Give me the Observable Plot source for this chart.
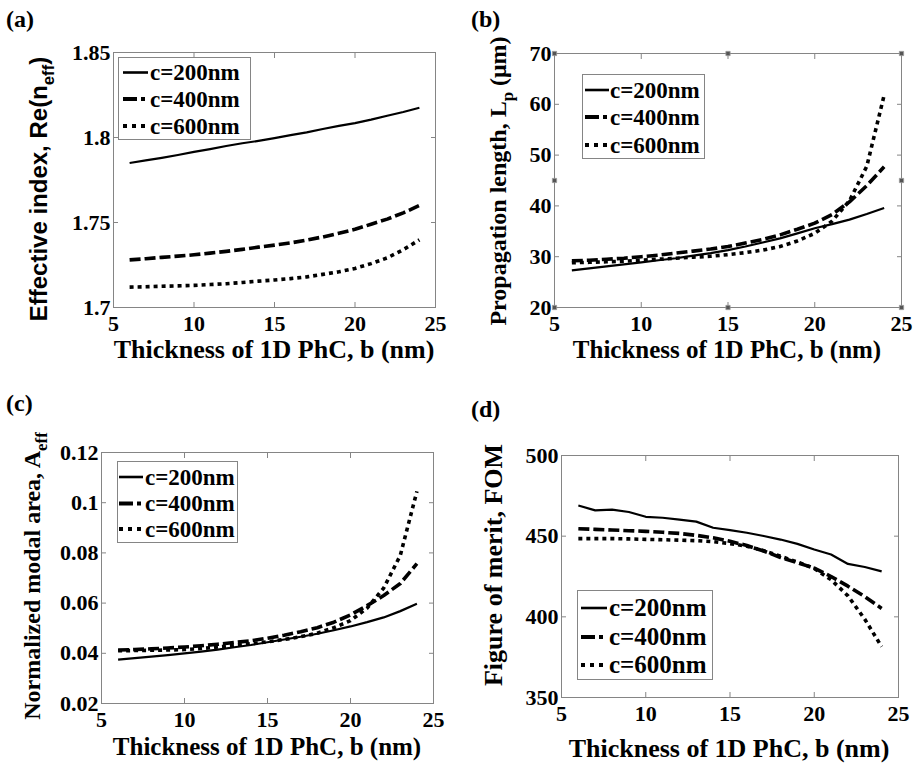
<!DOCTYPE html>
<html><head><meta charset="utf-8">
<script src="https://cdn.jsdelivr.net/npm/d3@7"></script>
<script src="https://cdn.jsdelivr.net/npm/@observablehq/plot@0.6"></script>
<style>
html,body{margin:0;padding:0;background:#fff;}
#wrap{position:relative;width:918px;height:764px;overflow:hidden;background:#fff;}
.panel{position:absolute;width:459px;height:382px;}
.panel svg{overflow:visible;}
#overlay{position:absolute;left:0;top:0;pointer-events:none;}
</style></head>
<body><div id="wrap"></div>
<script>
// ---------- data ----------
const thickness = [6,7,8,9,10,11,12,13,14,15,16,17,18,19,20,21,22,23,24];
const seriesLabels = ["c=200nm","c=400nm","c=600nm"];
const xTicks = [5,10,15,20,25];

// (a) effective index Re(n_eff)
const neff200 = [1.785,1.7865,1.788,1.7897,1.7915,1.7932,1.795,1.7966,1.798,1.7996,1.8014,1.803,1.805,1.8068,1.8085,1.8105,1.8128,1.815,1.8175];
const neff400 = [1.728,1.7287,1.7295,1.7302,1.731,1.732,1.733,1.7342,1.7355,1.7367,1.738,1.7397,1.7415,1.7437,1.746,1.749,1.752,1.7557,1.760];
const neff600 = [1.712,1.7122,1.7125,1.7127,1.713,1.7135,1.714,1.7147,1.7155,1.7162,1.717,1.718,1.7195,1.721,1.723,1.7258,1.7292,1.734,1.7398];
const neffTicks = [1.7,1.75,1.8,1.85];

// (b) propagation length L_p (um)
const lp200 = [27.3,27.7,28.1,28.5,28.9,29.3,29.7,30.2,30.7,31.3,32.0,32.8,33.6,34.6,35.6,36.4,37.3,38.4,39.6];
const lp400 = [29.2,29.3,29.5,29.7,30.0,30.3,30.7,31.1,31.5,32.0,32.7,33.4,34.3,35.4,36.6,38.3,40.8,44.0,47.7];
const lp600 = [28.8,28.9,29.0,29.1,29.3,29.5,29.7,29.9,30.1,30.4,30.8,31.3,32.0,33.1,34.6,37.0,41.0,47.8,61.8];
const lpTicks = [20,30,40,50,60,70];
const lpHandlesX = [5,15,25,5,25,5,15,25];
const lpHandlesY = [20,20,20,45,45,70,70,70];

// (c) normalized modal area A_eff
const aeff200 = [0.0375,0.0381,0.0387,0.0393,0.0400,0.0407,0.0415,0.0424,0.0433,0.0444,0.0455,0.0466,0.0478,0.0492,0.0507,0.0524,0.0543,0.0568,0.0597];
const aeff400 = [0.0413,0.0415,0.0418,0.0421,0.0425,0.0430,0.0436,0.0443,0.0450,0.0460,0.0472,0.0486,0.0502,0.0524,0.0553,0.0590,0.0630,0.0678,0.0757];
const aeff600 = [0.0410,0.0411,0.0412,0.0413,0.0415,0.0419,0.0425,0.0431,0.0438,0.0446,0.0455,0.0466,0.0480,0.0502,0.0530,0.0580,0.0660,0.0790,0.1045];
const aeffTicks = [0.02,0.04,0.06,0.08,0.1,0.12];

// (d) figure of merit FOM
const fom200 = [469,466,466.5,465,462,461.4,460.3,459,455.2,453.7,452.1,450.1,447.9,445.2,441.7,438.6,432.8,430.9,428.2];
const fom400 = [454.6,454.2,453.8,453.4,453.0,452.4,451.7,450.5,449.0,446.8,444.2,440.8,436.8,433.5,430.2,425.0,419.0,412.5,405.2];
const fom600 = [448.5,448.5,448.5,448.3,448.0,447.8,447.5,447.2,446.6,445.4,443.8,441.0,437.5,434.0,430.0,423.0,413.0,398.5,381.5];
const fomTicks = [350,400,450,500];

// ---------- styles ----------
const SERIF = "'Liberation Serif','Times New Roman',serif";
const SANS = "'Liberation Sans',Arial,sans-serif";
const FRAME = "#858585";
const TICK = 5;
const lineStyles = [
  {strokeWidth: 2.2, strokeDasharray: null},
  {strokeWidth: 3.6, strokeDasharray: "11,4"},
  {strokeWidth: 3.6, strokeDasharray: "4,4"}
];
const legendDash = [null, "14,4,4,4", "4,5"];
const legendWidth = [2.6, 4, 4];

const panels = [
  {tag:"(a)", ox:0, oy:0, m:[52,24,75,113], dom:[1.7,1.85], ticks:neffTicks, series:[neff200,neff400,neff600],
   label:{x:6,y:27}, ytitle:{parts:[["Effective index, Re(n",0],["eff",1],[")",0]], x:47, y:189, size:24, font:SANS},
   xtitle:{x:274,y:358,size:26},
   legend:{x:118,y:57,w:132,h:82,rows:[72.5,99,126],lx:[123,148],tx:150,size:23}},
  {tag:"(b)", ox:459, oy:0, m:[53,17,75,95], dom:[20,70], ticks:lpTicks, series:[lp200,lp400,lp600], handles:true,
   label:{x:471,y:27}, ytitle:{parts:[["Propagation length, L",0],["p",1],[" (\u03bcm)",0]], x:506, y:181, size:24, font:SERIF},
   xtitle:{x:727,y:358,size:25},
   legend:{x:582,y:74,w:122,h:84,rows:[90,117,145],lx:[585,609],tx:610,size:23}},
  {tag:"(c)", ox:0, oy:382, m:[70,26,61,101], dom:[0.02,0.12], ticks:aeffTicks, series:[aeff200,aeff400,aeff600],
   label:{x:6,y:411}, ytitle:{parts:[["Normalized modal area, A",0],["eff",1]], x:40, y:576, size:24, font:SERIF},
   xtitle:{x:267,y:755,size:25},
   legend:{x:117,y:461,w:120,h:81,rows:[477,503.5,529],lx:[119,143],tx:145,size:23}},
  {tag:"(d)", ox:459, oy:382, m:[73,20,67,102], dom:[350,500], ticks:fomTicks, series:[fom200,fom400,fom600],
   label:{x:471,y:417}, ytitle:{parts:[["Figure of merit, FOM",0]], x:502, y:565, size:26, font:SERIF},
   xtitle:{x:729,y:757,size:26},
   legend:{x:577,y:590,w:135,h:89,rows:[608,637,665],lx:[581,607],tx:609,size:25}}
];

const wrap = document.getElementById("wrap");

for (const p of panels) {
  const marks = [
    Plot.frame({stroke: FRAME, strokeWidth: 1}),
    Plot.axisX(xTicks, {anchor:"bottom", tickSize:0, tickPadding:8, fontSize:22, fontWeight:"bold", fontFamily:SERIF, fill:"black", label:null, tickFormat:d=>String(d)}),
    // inward tick marks (MATLAB style) on all four sides
    Plot.axisX(xTicks, {anchor:"bottom", tickSize:TICK, dy:-TICK, stroke:FRAME, fill:"none", label:null}),
    Plot.axisX(xTicks, {anchor:"top", tickSize:TICK, dy:TICK, stroke:FRAME, fill:"none", label:null}),
    Plot.axisY(p.ticks, {anchor:"left", tickSize:0, tickPadding:3, fontSize:22, fontWeight:"bold", fontFamily:SERIF, fill:"black", label:null, tickFormat:d=>String(d)}),
    Plot.axisY(p.ticks, {anchor:"left", tickSize:TICK, dx:TICK, stroke:FRAME, fill:"none", label:null}),
    Plot.axisY(p.ticks, {anchor:"right", tickSize:TICK, dx:-TICK, stroke:FRAME, fill:"none", label:null})
  ];
  if (p.handles) {
    marks.push(Plot.dot(lpHandlesX.map((x,i)=>({x, y: lpHandlesY[i]})), {x:"x", y:"y", symbol:"square", r:2.4, fill:"#555", stroke:"#999", strokeWidth:0.8}));
  }
  p.series.forEach((vals, si) => {
    const rows = thickness.map((b, i) => ({b, v: vals[i], c: seriesLabels[si]}));
    marks.push(Plot.line(rows, {x:"b", y:"v", stroke:"black", strokeWidth: lineStyles[si].strokeWidth,
      strokeDasharray: lineStyles[si].strokeDasharray, strokeLinecap:"butt", strokeLinejoin:"round"}));
  });
  const chart = Plot.plot({
    width: 459, height: 382,
    marginTop: p.m[0], marginRight: p.m[1], marginBottom: p.m[2], marginLeft: p.m[3],
    x: {type:"linear", domain:[5,25]},
    y: {type:"linear", domain:p.dom},
    style: {background:"transparent", fontFamily: SERIF, fontWeight:"bold", color:"black", overflow:"visible"},
    marks
  });
  const div = document.createElement("div");
  div.className = "panel";
  div.style.left = p.ox + "px";
  div.style.top = p.oy + "px";
  div.appendChild(chart);
  wrap.appendChild(div);
}

// ---------- overlay: panel tags, axis titles, legends ----------
const svg = d3.select(wrap).append("svg").attr("id","overlay").attr("width",918).attr("height",764);

for (const p of panels) {
  svg.append("text").attr("x", p.label.x).attr("y", p.label.y)
    .attr("font-family", SERIF).attr("font-weight","bold").attr("font-size",24).text(p.tag);

  // y title (rotated)
  const yt = svg.append("text")
    .attr("transform", `translate(${p.ytitle.x},${p.ytitle.y}) rotate(-90)`)
    .attr("text-anchor","middle").attr("font-family", p.ytitle.font).attr("font-weight","bold")
    .attr("font-size", p.ytitle.size);
  let shifted = false;
  for (const [s, sub] of p.ytitle.parts) {
    const ts = yt.append("tspan").text(s);
    if (sub) { ts.attr("font-size", p.ytitle.size*0.7).attr("dy", p.ytitle.size*0.28); shifted = true; }
    else if (shifted) { ts.attr("dy", -p.ytitle.size*0.28); shifted = false; }
  }

  // x title
  svg.append("text").attr("x", p.xtitle.x).attr("y", p.xtitle.y).attr("text-anchor","middle")
    .attr("font-family", SERIF).attr("font-weight","bold").attr("font-size", p.xtitle.size)
    .text("Thickness of 1D PhC, b (nm)");

  // legend
  const L = p.legend;
  svg.append("rect").attr("x",L.x+0.5).attr("y",L.y+0.5).attr("width",L.w).attr("height",L.h)
    .attr("fill","white").attr("stroke",FRAME).attr("stroke-width",1);
  seriesLabels.forEach((lab, i) => {
    const yy = L.rows[i];
    const ln = svg.append("line").attr("x1",L.lx[0]).attr("x2",L.lx[1]).attr("y1",yy).attr("y2",yy)
      .attr("stroke","black").attr("stroke-width",legendWidth[i]);
    if (legendDash[i]) ln.attr("stroke-dasharray", legendDash[i]);
    svg.append("text").attr("x",L.tx).attr("y",yy + L.size*0.33)
      .attr("font-family",SERIF).attr("font-weight","bold").attr("font-size",L.size).text(lab);
  });
}
</script>
</body></html>
